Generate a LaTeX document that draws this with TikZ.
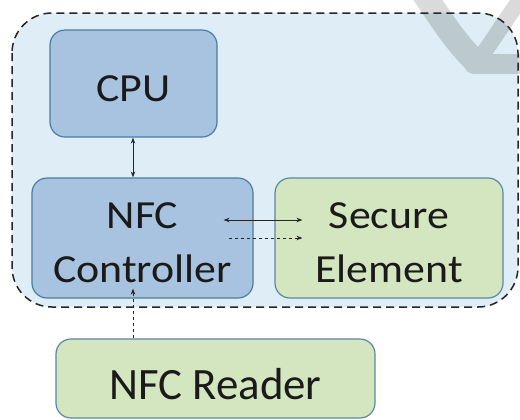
\documentclass[tikz,border=0pt]{standalone}
\usepackage{fontspec}
\setmainfont{Carlito}
\newfontfamily\wideface[FakeStretch=1.10]{Carlito}
\usetikzlibrary{calc,arrows.meta}
\definecolor{outerfill}{HTML}{DFEEF6}
\definecolor{bluefill}{HTML}{A7C3DF}
\definecolor{blueedge}{HTML}{4C7BA6}
\definecolor{greenfill}{HTML}{D3E6C0}
\definecolor{greenedge}{HTML}{5A88A2}
\definecolor{txt}{HTML}{1A1A1A}
\definecolor{ghostout}{HTML}{DADADA}
\definecolor{ghostin}{HTML}{BCC9CF}
\newcommand\drawghost[1]{%
  \draw[#1, line width=24bp, line cap=round] (418,-15) .. controls (438,15) and (455,42) .. (476,62);
  \draw[#1, line width=16bp, line cap=round] (481,57) -- (525,-8);
  \draw[#1, line width=20bp, line cap=round] (474,64) -- (530,64);
}
\begin{document}
\begin{tikzpicture}[x=1bp,y=-1bp,
  box/.style={rectangle, rounded corners=15bp, line width=1.2bp, inner sep=0pt},
  bluebox/.style={box, fill=bluefill, draw=blueedge},
  greenbox/.style={box, fill=greenfill, draw=greenedge},
  lbl/.style={inner sep=0pt, text=txt, anchor=base, font=\wideface\fontsize{40}{55}\selectfont},
  biglbl/.style={inner sep=0pt, text=txt, anchor=base, font=\fontsize{45}{55}\selectfont},
  link/.style={line width=0.8bp, draw=black!85},
  tip/.style={-{Stealth[length=6bp,width=4.5bp]}},
  ttip/.style={{Stealth[length=6bp,width=4.5bp]}-{Stealth[length=6bp,width=4.5bp]}},
  dsh/.style={dash pattern=on 3.5bp off 2.5bp}
]
\fill[white] (0,0) rectangle (520,419);
\useasboundingbox (0,0) rectangle (520,419);
% ghost chevron outside the device area
\drawghost{ghostout}
% device area
\fill[outerfill, rounded corners=40bp] (12,13) rectangle (518,307);
\begin{scope}
  \clip[rounded corners=40bp] (12,13) rectangle (518,307);
  \drawghost{ghostin}
\end{scope}
\draw[line width=1.5bp, black!85, dash pattern=on 8bp off 5bp, rounded corners=40bp] (12,13) rectangle (518,307);

% boxes
\node[bluebox, minimum width=167bp, minimum height=107bp] (cpu) at (133.5,83.5) {};
\node[bluebox, minimum width=221bp, minimum height=120bp] (nfc) at (142.5,238) {};
\node[greenbox, minimum width=228bp, minimum height=120bp] (se) at (389,238) {};
\node[greenbox, minimum width=319bp, minimum height=79bp] (rd) at (215.5,378.5) {};

% labels
\node[lbl] (cpuT) at ($(cpu.center)+(0,18)$) {CPU};
\node[lbl] (nfcT) at ($(nfc.center)+(0,-10)$) {\begin{tabular}[t]{@{}c@{}}NFC\\Controller\end{tabular}};
\node[lbl] (seT) at ($(se.center)+(0,-10)$) {\begin{tabular}[t]{@{}c@{}}Secure\\Element\end{tabular}};
\node[biglbl] (rdT) at ($(rd.center)+(0,20.5)$) {NFC Reader};

% connectors
\coordinate (busx) at (133,0);
\draw[link, ttip] (busx |- cpu.south) -- (busx |- nfc.north);
\coordinate (hA) at ($(nfc.east)+(-30,-18)$);
\coordinate (hB) at ($(se.west)+(28,-18)$);
\draw[link, ttip] (hA) -- (hB);
\coordinate (dA) at ($(nfc.east)+(-25,0)$);
\coordinate (dB) at ($(se.west)+(28,0)$);
\draw[link, tip, dsh] (dA) -- (dB);
\coordinate (rdTop) at (busx |- rd.north);
\coordinate (nfcIn) at ($(busx |- nfc.south)+(0,-10)$);
\draw[link, tip, dsh] (rdTop) -- (nfcIn);
\end{tikzpicture}
\end{document}
